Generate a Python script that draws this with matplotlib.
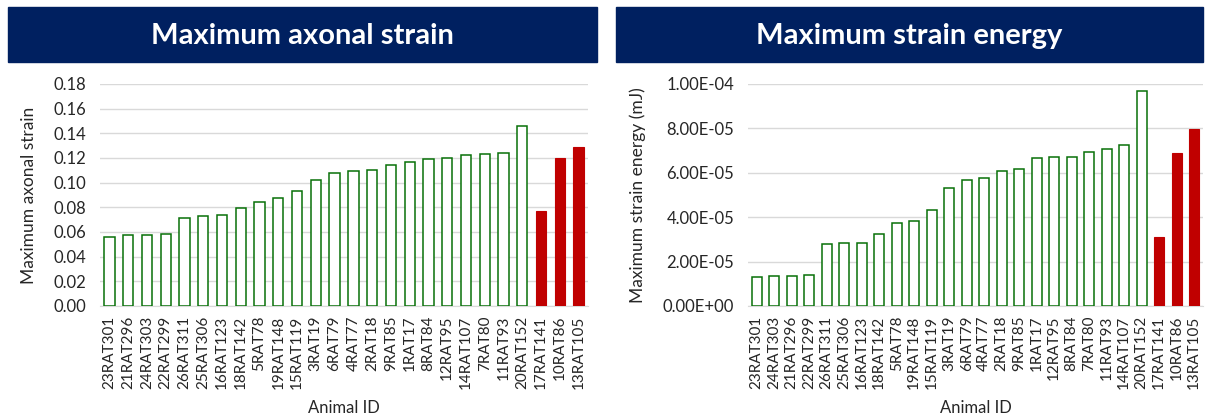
import matplotlib
matplotlib.use("Agg")
import matplotlib.pyplot as plt
from matplotlib.patches import Rectangle
from matplotlib.ticker import FuncFormatter

plt.rcParams['font.family'] = ['Lato', 'DejaVu Sans']

# left panel: maximum axonal strain
strain_ids = ["23RAT301", "21RAT296", "24RAT303", "22RAT299", "26RAT311", "25RAT306",
              "16RAT123", "18RAT142", "5RAT78", "19RAT148", "15RAT119", "3RAT19",
              "6RAT79", "4RAT77", "2RAT18", "9RAT85", "1RAT17", "8RAT84", "12RAT95",
              "14RAT107", "7RAT80", "11RAT93", "20RAT152", "17RAT141", "10RAT86", "13RAT105"]
strain_vals = [0.0562, 0.0573, 0.0573, 0.0581, 0.0711, 0.0727, 0.0735, 0.0792, 0.0846,
               0.0873, 0.0935, 0.1022, 0.108, 0.1092, 0.1105, 0.1146, 0.117, 0.1189,
               0.120, 0.1227, 0.1232, 0.124, 0.1462, 0.077, 0.120, 0.1292]
strain_injured = ["17RAT141", "10RAT86", "13RAT105"]

# right panel: maximum strain energy (mJ)
energy_ids = ["23RAT301", "24RAT303", "21RAT296", "22RAT299", "26RAT311", "25RAT306",
              "16RAT123", "18RAT142", "5RAT78", "19RAT148", "15RAT119", "3RAT19",
              "6RAT79", "4RAT77", "2RAT18", "9RAT85", "1RAT17", "12RAT95", "8RAT84",
              "7RAT80", "11RAT93", "14RAT107", "20RAT152", "17RAT141", "10RAT86", "13RAT105"]
energy_vals = [1.32e-5, 1.35e-5, 1.37e-5, 1.38e-5, 2.78e-5, 2.82e-5, 2.85e-5, 3.23e-5,
               3.75e-5, 3.84e-5, 4.32e-5, 5.33e-5, 5.68e-5, 5.75e-5, 6.08e-5, 6.19e-5,
               6.65e-5, 6.73e-5, 6.73e-5, 6.94e-5, 7.09e-5, 7.27e-5, 9.70e-5, 3.11e-5,
               6.89e-5, 7.97e-5]
energy_injured = ["17RAT141", "10RAT86", "13RAT105"]

navy = "#002060"
green = "#087008"
red = "#c00000"
grid_c = "#d9d9d9"
text_c = "#262626"

W, H = 1211, 416
fig = plt.figure(figsize=(W / 100, H / 100), dpi=100)


def banner(x0, x1, title):
    fig.patches.append(Rectangle((x0 / W, 1 - 62 / H), (x1 - x0) / W, 55 / H,
                                 transform=fig.transFigure, color=navy, zorder=0))
    fig.text((x0 + x1) / 2 / W, 1 - 36 / H, title, color="white", fontsize=21,
             fontweight="bold", ha="center", va="center")


def bar_panel(ax, ids, vals, injured, ymax, step, ylabel, fmt):
    x = range(len(ids))
    for i, (name, v) in enumerate(zip(ids, vals)):
        if name in injured:
            ax.bar(i, v, width=0.55, color=red, edgecolor=red, linewidth=0.8, zorder=3)
        else:
            ax.bar(i, v, width=0.55, color="white", edgecolor=green, linewidth=1.1, zorder=3)
    ax.set_xlim(-0.5, len(ids) - 0.5)
    ax.set_ylim(0, ymax)
    ticks = [k * step for k in range(int(round(ymax / step)) + 1)]
    ax.set_yticks(ticks)
    ax.yaxis.set_major_formatter(FuncFormatter(fmt))
    ax.set_xticks(list(x))
    ax.set_xticklabels(ids, rotation=90, fontsize=11, color=text_c)
    ax.tick_params(axis="y", labelsize=12, labelcolor=text_c, length=0, pad=10)
    ax.tick_params(axis="x", length=0, pad=7)
    ax.grid(axis="y", color=grid_c, linewidth=1, zorder=0)
    for s in ["top", "right", "left"]:
        ax.spines[s].set_visible(False)
    ax.spines["bottom"].set_color(grid_c)
    ax.set_xlabel("Animal ID", fontsize=12, color=text_c, labelpad=8)
    ax.set_ylabel(ylabel, fontsize=12.5, color=text_c, labelpad=12)


banner(8, 597, "Maximum axonal strain")
banner(616, 1203, "Maximum strain energy")

ax1 = fig.add_axes([100 / W, 110 / H, 488 / W, 222 / H])
bar_panel(ax1, strain_ids, strain_vals, strain_injured, 0.18, 0.02,
          "Maximum axonal strain", lambda v, p: f"{v:.2f}")

ax2 = fig.add_axes([748 / W, 110 / H, 455 / W, 222 / H])
bar_panel(ax2, energy_ids, energy_vals, energy_injured, 1e-4, 2e-5,
          "Maximum strain energy (mJ)", lambda v, p: f"{v:.2E}")

fig.savefig("out.png", dpi=100)
